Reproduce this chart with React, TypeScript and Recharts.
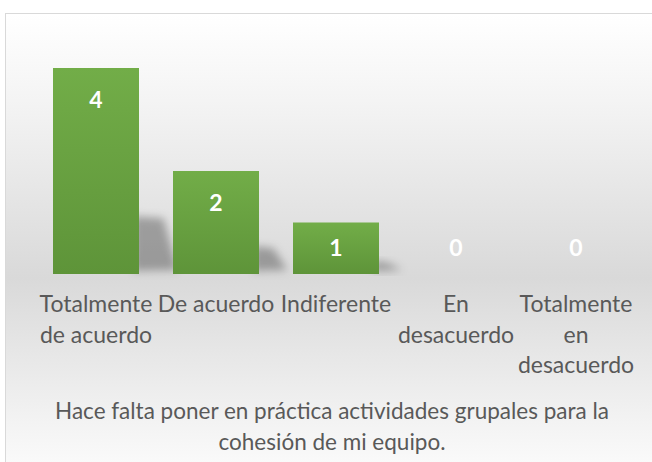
import React from "react";
import { BarChart, Bar, XAxis, YAxis, LabelList } from "recharts";

const categories = [
  "Totalmente de acuerdo",
  "De acuerdo",
  "Indiferente",
  "En desacuerdo",
  "Totalmente en desacuerdo",
];
const tickLines: string[][] = [
  ["Totalmente", "de acuerdo"],
  ["De acuerdo"],
  ["Indiferente"],
  ["En", "desacuerdo"],
  ["Totalmente", "en", "desacuerdo"],
];
const values = [4, 2, 1, 0, 0];
const titleLines = [
  "Hace falta poner en práctica actividades grupales para la",
  "cohesión de mi equipo.",
];

const data = categories.map((c, i) => ({ name: c, value: values[i], idx: i }));

const FONT = "Lato, 'Noto Sans', sans-serif";

const Tick = (props: any) => {
  const { x, y, index } = props;
  const lines = tickLines[index] || [];
  return (
    <g>
      {lines.map((l, i) => (
        <text
          key={i}
          x={x}
          y={y + 30 + i * 30.5}
          textAnchor="middle"
          fill="#595959"
          fontSize={23}
          fontFamily={FONT}
        >
          {l}
        </text>
      ))}
    </g>
  );
};

const BarShape = (props: any) => {
  const { x, y, width, height } = props;
  if (!height || height <= 0) return <g />;
  const b = y + height;
  const r = x + width;
  const sh = height * 0.29;
  const ext = 18 + height * 0.1;
  const pts = `${r - 6},${b - 3} ${r - 6},${b - sh + 2} ${r + ext - 14},${b - sh + 4} ${r + ext},${b - 4}`;
  return (
    <g>
      <polygon points={pts} fill="#000" fillOpacity={0.3} filter="url(#shadowBlur)" />
      <rect x={x} y={y} width={width} height={height} fill="url(#barGrad)" />
    </g>
  );
};

const ValueLabel = (props: any) => {
  const { x, y, width, height, value } = props;
  const cy = Math.min(y + 31, y + height - 27);
  return (
    <text
      x={x + width / 2}
      y={cy}
      textAnchor="middle"
      dominantBaseline="central"
      fill="#ffffff"
      fontWeight="bold"
      fontSize={23}
      fontFamily={FONT}
    >
      {value}
    </text>
  );
};

export default function App() {
  return (
    <div
      style={{
        position: "absolute",
        left: 0,
        top: 0,
        width: 652,
        height: 462,
        overflow: "hidden",
        background: "#ffffff",
      }}
    >
      <div
        style={{
          position: "absolute",
          left: 5,
          top: 13,
          width: 680,
          height: 480,
          border: "1.5px solid #d9d9d9",
          background:
            "linear-gradient(to bottom, #ffffff 0%, #f4f4f4 18%, #d9d9d9 55%, #f3f3f3 85%, #ffffff 100%)",
        }}
      />
      <div style={{ position: "absolute", left: 0, top: 0 }}>
        <BarChart
          width={652}
          height={462}
          data={data}
          margin={{ top: 68, right: 16, left: 36, bottom: 0 }}
          barCategoryGap={17}
        >
          <defs>
            <linearGradient id="barGrad" x1="0" y1="0" x2="0" y2="1">
              <stop offset="0%" stopColor="#72ad48" />
              <stop offset="100%" stopColor="#5e9439" />
            </linearGradient>
            <filter id="shadowBlur" x="-50%" y="-50%" width="200%" height="200%">
              <feGaussianBlur stdDeviation="4" />
            </filter>
          </defs>
          <XAxis
            dataKey="name"
            axisLine={false}
            tickLine={false}
            height={188}
            interval={0}
            tick={<Tick />}
          />
          <YAxis hide domain={[0, 4]} />
          <Bar dataKey="value" shape={<BarShape />} isAnimationActive={false}>
            <LabelList dataKey="value" content={<ValueLabel />} />
          </Bar>
        </BarChart>
      </div>
      <div
        style={{
          position: "absolute",
          left: 2,
          width: 660,
          top: 395,
          textAlign: "center",
          color: "#595959",
          fontFamily: FONT,
          fontSize: 22.5,
          lineHeight: "31px",
          whiteSpace: "nowrap",
        }}
      >
        {titleLines.map((t, i) => (
          <div key={i}>{t}</div>
        ))}
      </div>
    </div>
  );
}
